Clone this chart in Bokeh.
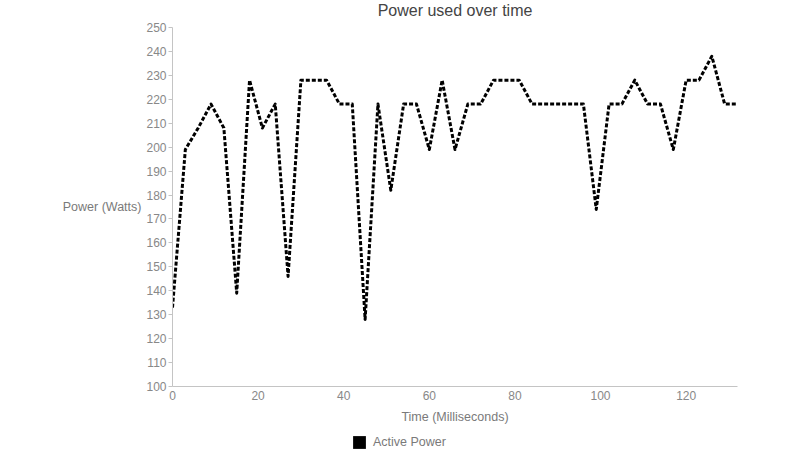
from bokeh.plotting import figure
from bokeh.layouts import column
from bokeh.models import (Range1d, SingleIntervalTicker, Legend, LegendItem, Label)
from bokeh.embed import file_html
from bokeh.resources import INLINE

# ---- data ----
time_ms = [0, 3, 6, 9, 12, 15, 18, 21, 24, 27, 30, 33, 36, 39, 42, 45, 48, 51,
           54, 57, 60, 63, 66, 69, 72, 75, 78, 81, 84, 87, 90, 93, 96, 99, 102,
           105, 108, 111, 114, 117, 120, 123, 126, 129, 132]
active_power = [133, 199, 208, 218, 208, 139, 228, 208, 218, 146, 228, 228, 228,
                218, 218, 128, 218, 182, 218, 218, 199, 228, 199, 218, 218, 228,
                228, 228, 218, 218, 218, 218, 218, 174, 218, 218, 228, 218, 218,
                199, 228, 228, 238, 218, 218]
title_text = "Power used over time"
x_label = "Time (Milliseconds)"
y_label = "Power (Watts)"
series_name = "Active Power"

FONT = "Liberation Sans"
x_rng = Range1d(time_ms[0], time_ms[-1])

def bare(fig):
    fig.xgrid.visible = False
    fig.ygrid.visible = False
    return fig

# title strip
p0 = bare(figure(width=800, height=20, output_backend="svg", toolbar_location=None,
                 x_range=x_rng, y_range=Range1d(0, 1),
                 x_axis_location=None, y_axis_location=None,
                 min_border_left=0, min_border_right=0,
                 min_border_top=0, min_border_bottom=0,
                 border_fill_color="white", outline_line_color=None))
p0.add_layout(Label(x=(time_ms[0] + time_ms[-1]) / 2, y=0.5, text=title_text,
                    text_align="center", text_baseline="middle",
                    text_font=FONT, text_font_size="16px",
                    text_color="#444444"))

# main chart
p = bare(figure(width=800, height=410, output_backend="svg", toolbar_location=None,
                x_range=x_rng, y_range=Range1d(100, 250),
                min_border_left=172, min_border_right=63,
                min_border_top=7, min_border_bottom=44,
                background_fill_color="white", border_fill_color="white",
                outline_line_color=None))

ax_col = "#c4c4c4"
lab_col = "#888888"

xa = p.xaxis[0]
xa.ticker = SingleIntervalTicker(interval=20)
xa.axis_line_color = ax_col
xa.major_tick_out = 0
xa.major_tick_in = 0
xa.minor_tick_out = 0
xa.minor_tick_in = 0
xa.major_label_standoff = 4
xa.major_label_text_font = FONT
xa.major_label_text_font_size = "12px"
xa.major_label_text_color = lab_col
xa.axis_label = x_label
xa.axis_label_text_font = FONT
xa.axis_label_text_font_size = "12.5px"
xa.axis_label_text_font_style = "normal"
xa.axis_label_text_color = "#7a7a7a"
xa.axis_label_standoff = 7

ya = p.yaxis[0]
ya.ticker = SingleIntervalTicker(interval=10)
ya.axis_line_color = ax_col
ya.major_tick_line_color = ax_col
ya.major_tick_out = 4
ya.major_tick_in = 0
ya.minor_tick_out = 0
ya.minor_tick_in = 0
ya.major_label_standoff = 2
ya.major_label_text_font = FONT
ya.major_label_text_font_size = "12px"
ya.major_label_text_color = lab_col
ya.axis_label = y_label
ya.axis_label_orientation = "horizontal"
ya.axis_label_text_font = FONT
ya.axis_label_text_font_size = "12.5px"
ya.axis_label_text_font_style = "normal"
ya.axis_label_text_color = "#7a7a7a"
ya.axis_label_standoff = 2

p.line(time_ms, active_power, line_color="black", line_width=3,
       line_dash="4 2", line_join="round")

# legend strip below the chart
p2 = bare(figure(width=800, height=20, output_backend="svg", toolbar_location=None,
                 x_axis_location=None, y_axis_location=None,
                 min_border_left=0, min_border_right=0,
                 min_border_top=0, min_border_bottom=0,
                 background_fill_color="white", border_fill_color="white",
                 outline_line_color=None))
swatch = p2.quad(left=time_ms, right=time_ms, top=active_power,
                 bottom=active_power, fill_color="black", line_color="black",
                 line_width=0)

legend = Legend(items=[LegendItem(label=series_name, renderers=[swatch])],
                location=(179, 0), orientation="horizontal",
                padding=0, margin=0, spacing=0,
                glyph_width=16, glyph_height=16, label_height=16,
                label_standoff=6, border_line_color=None,
                background_fill_alpha=0,
                label_text_font=FONT, label_text_font_size="12.5px",
                label_text_color="#7a7a7a")
p2.add_layout(legend, "center")

layout = column(p0, p, p2, spacing=0)
open("out.html", "w").write(file_html(layout, INLINE))
